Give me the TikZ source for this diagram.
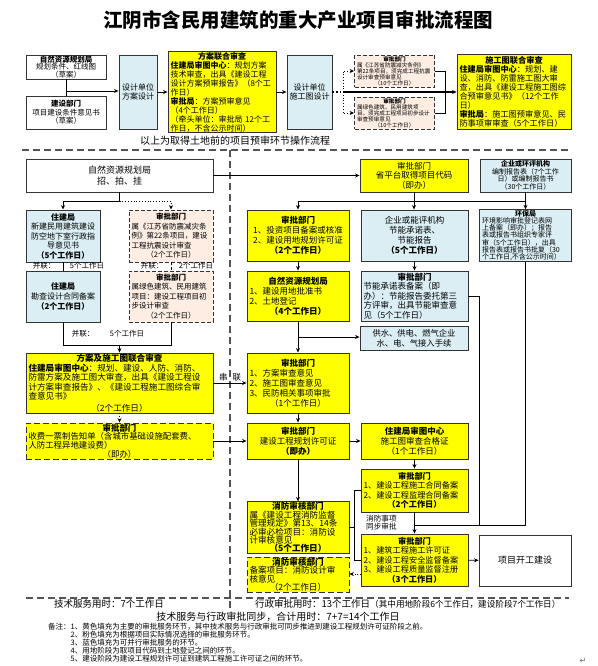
\documentclass[tikz,border=0pt]{standalone}
\usepackage{fontspec}
\setmainfont{Noto Sans CJK SC}
\newfontfamily\symfont{DejaVu Sans}
\usetikzlibrary{arrows.meta, positioning}
\definecolor{apyellow}{HTML}{FFFF00}
\definecolor{apblue}{HTML}{DAEEF3}
\definecolor{appink}{HTML}{FDEDE3}
\definecolor{apline}{HTML}{333333}
\definecolor{apdash}{HTML}{555555}
\setlength{\parindent}{0pt}
\newcommand\fz[2]{\fontsize{#1}{#2}\selectfont}
\newcommand\hd[1]{{\centering\bfseries #1\par}}
\newcommand\ct[1]{{\centering #1\par}}
\newcommand\lf[1]{{\raggedright #1\par}}

\begin{document}
\begin{tikzpicture}[
    x=1pt, y=-1pt,
    box/.style={rectangle, draw=apline, line width=0.9pt, inner xsep=2.5pt,
                inner ysep=0.5pt, font=\fz{8}{9.5}},
    sz/.style 2 args={text width=#1, minimum height=#2},
    ybox/.style={box, fill=apyellow},
    bbox/.style={box, fill=apblue},
    wbox/.style={box, fill=white},
    pbox/.style={box, fill=appink, dash pattern=on 4pt off 2pt},
    arr/.style={-{Stealth[length=4.5pt,width=4pt]}, line width=0.8pt},
    ln/.style={line width=0.8pt},
    sep/.style={line width=1.2pt, color=apdash, dash pattern=on 7pt off 4pt},
    note/.style={inner sep=0pt, font=\fz{7.5}{8}}
  ]
    \useasboundingbox (0,0) rectangle (597,666);

    \node[note, font=\fz{19.5}{20}\bfseries] (title) at (298,20) {江阴市含民用建筑的重大产业项目审批流程图};

    % pre-approval before land
    \node[wbox, sz={75pt}{24pt}, font=\fz{7.5}{7.5}] (zrj1) at (66,67)
      {\hd{自然资源规划局}\ct{规划条件、红线图}\ct{（草案）}};
    \node[wbox, sz={75pt}{33pt}, font=\fz{7.5}{8.5}] (jsbm1) at (66,112.5)
      {\hd{建设部门}\ct{项目建设条件意见书}\ct{（草案）}};
    \node[bbox, sz={33pt}{74pt}] (sjfa) at (138,92) {\ct{设计单位}\ct{方案设计}};
    \node[ybox, sz={103pt}{74pt}, font=\fz{8}{9}] (fash) at (222,92)
      {\hd{方案联合审查}\lf{\textbf{住建局审图中心}：规划方案\\技术审查，出具《建设工程\\设计方案预审报告》（8个工\\作日）\\\textbf{审批局}：方案预审意见\\（4个工作日）\\（牵头单位：审批局~12个工\\作日，不含公示时间）}};
    \node[bbox, sz={42pt}{74pt}, inner xsep=1.5pt] (sjsg) at (309.5,92) {\ct{设计单位}\ct{施工图设计}};
    \node[pbox, sz={75pt}{32pt}, font=\fz{5.6}{6}] (kz1) at (394.5,71)
      {\hd{审批部门}\lf{属《江苏省防震减灾条例》\\第22条项目，须完成工程抗震\\设计审查预审意见}\ct{（10个工作日）}};
    \node[pbox, sz={75pt}{32pt}, font=\fz{5.6}{6}] (ls1) at (394.5,113)
      {\hd{审批部门}\lf{属绿色建筑、民用建筑项\\目，须完成工程项目初步设计\\审查预审意见}\ct{（10个工作日）}};
    \node[ybox, sz={109pt}{75pt}, font=\fz{8.2}{9}] (sgsh) at (514,91.5)
      {\hd{施工图联合审查}\lf{\textbf{住建局审图中心}：规划、建\\设、消防、防雷施工图大审\\查，出具《建设工程施工图综\\合预审意见书》（12个工作\\日）\\\textbf{审批局}：施工图预审意见、民\\防事项审审查（5个工作日）}};

    \coordinate (j1) at (66,91);
    \draw[ln] (zrj1) -- (jsbm1);
    \draw[arr] (j1) -- (j1 -| sjfa.west);
    \draw[arr] (sjfa) -- (fash);
    \draw[arr] (fash) -- (sjsg);
    \coordinate (j2) at (343,92);
    \coordinate (j3) at (445,92);
    \draw[line width=1.6pt, dotted] (sjsg.east) -- (j2);
    \draw[arr, line width=1.4pt] (j2) -- (j2 -| sgsh.west);
    \draw[arr, dotted] (j2) |- (kz1.west);
    \draw[arr, dotted] (j2) |- (ls1.west);
    \draw[ln] (kz1.east) -| (j3);
    \draw[ln] (ls1.east) -| (j3);

    \node[note, font=\fz{10}{11}] (pre) at (235,141) {以上为取得土地前的项目预审环节操作流程};

    \draw[sep] (22,150) -- (568,150);
    \draw[sep] (230,150) -- (230,610);
    \draw[sep] (26,598) -- (569,598);

    % left column
    \node[wbox, sz={182pt}{33pt}, font=\fz{9}{10.5}] (zrj2) at (119.5,175.5) {\ct{自然资源规划局}\ct{招、拍、挂}};
    \node[bbox, sz={69pt}{52pt}, font=\fz{8}{9.5}] (zjj1) at (63,236)
      {\hd{住建局}\ct{新建民用建筑建设}\ct{防空地下室行政指}\ct{导意见书}\hd{（5个工作日）}};
    \node[pbox, sz={79pt}{52pt}, font=\fz{7.5}{9.5}] (kz2) at (171,236)
      {\hd{审批部门}\lf{属《江苏省防震减灾条\\例》第22条项目，建设\\工程抗震设计审查}\ct{（2个工作日）}};
    \node[bbox, sz={69pt}{51pt}, font=\fz{8}{10}] (zjj2) at (63,296.5)
      {\hd{住建局}\ct{勘查设计合同备案}\hd{（2个工作日）}};
    \node[pbox, sz={79pt}{51pt}, font=\fz{7.5}{9.5}] (ls2) at (171,296.5)
      {\hd{审批部门}\lf{属绿色建筑、民用建筑\\项目：建设工程项目初\\步设计审查}\ct{（2个工作日）}};
    \node[ybox, sz={182pt}{60pt}, font=\fz{8.6}{9.5}] (lhsc) at (119.5,383)
      {\hd{方案及施工图联合审查}\lf{\textbf{住建局审图中心}：规划、建设、人防、消防、\\防雷方案及施工图大审查，出具《建设工程设\\计方案审查报告》、《建设工程施工图综合审\\查意见书》}\vspace{2pt}\ct{（2个工作日）}};
    \node[ybox, sz={182pt}{36pt}, font=\fz{8.4}{8.6}, dash pattern=on 6pt off 3pt] (sfdz) at (119.5,441)
      {\hd{审批部门}\lf{收费一票制告知单（含城市基础设施配套费、\\人防工程异地建设费）}\ct{（即办）}};

    \node[note] at (44,266) {并联：};
    \node[note] at (87,266) {5个工作日};
    \node[note] at (152,266) {并联：};
    \node[note] at (196,266) {2个工作日};
    \node[note] at (83,334) {并联：};
    \node[note] at (127,334) {5个工作日};
    \node[note, font=\fz{8.5}{9}] at (230,377) {串\hspace{5pt}联};

    \coordinate (j4) at (119.5,201);
    \coordinate (j5) at (119.5,345);
    \draw[ln] (zrj2) -- (j4);
    \draw[arr] (j4) -| (zjj1);
    \draw[arr, dotted] (j4) -| (kz2);
    \draw[ln] (zjj1) -- (zjj2);
    \draw[ln, dash pattern=on 3pt off 2pt] (kz2) -- (ls2);
    \draw[ln] (zjj2) |- (j5);
    \draw[ln] (ls2) |- (j5);
    \draw[arr] (j5) -- (lhsc);
    \draw[arr, dotted] (lhsc) -- (sfdz);

    % right part
    \node[ybox, sz={103pt}{33pt}, font=\fz{8.5}{9.5}] (ptdm) at (414,175.5)
      {\ct{审批部门}\ct{省平台取得项目代码}\ct{（即办）}};
    \node[bbox, sz={86pt}{33pt}, font=\fz{7}{7.5}] (hpjg) at (525.5,175.5)
      {\hd{企业或环评机构}\ct{编制报告表（7个工作}\ct{日）或编制报告书}\ct{（30个工作日）}};
    \node[ybox, sz={97pt}{51pt}, font=\fz{8.5}{10}] (tzba) at (298,235.5)
      {\hd{审批部门}\ct{1、投资项目备案或核准}\ct{2、建设用地规划许可证}\hd{（2个工作日）}};
    \node[bbox, sz={102pt}{51pt}, font=\fz{8.5}{10}] (nppg) at (414.5,235.5)
      {\ct{企业或能评机构}\ct{节能承诺表、}\ct{节能报告}\hd{（5个工作日）}};
    \node[bbox, sz={87pt}{51pt}, font=\fz{7}{7.2}] (hbj) at (525.5,235.5)
      {\hd{环保局}\lf{环境影响审批登记表网\\上备案（即办）；报告\\表或报告书组织专家评\\审（5个工作日），出具\\报告表或报告书批复（30\\个工作日,不含公示时间）}};
    \node[ybox, sz={97pt}{50pt}, font=\fz{8.5}{10}] (tddj) at (298,296)
      {\hd{自然资源规划局}\lf{1、建设用地批准书\\2、土地登记}\hd{（4个工作日）}};
    \node[bbox, sz={102pt}{50pt}, font=\fz{8.5}{9.5}] (jnsc) at (414.5,296)
      {\hd{审批部门}\lf{节能承诺表备案（即\\办）：节能报告委托第三\\方评审，出具节能审查意\\见（5个工作日）}};
    \node[bbox, sz={103pt}{24pt}, font=\fz{8.3}{10}] (sdq) at (414,338)
      {\ct{供水、供电、燃气企业}\ct{水、电、气接入手续}};
    \node[ybox, sz={97pt}{60pt}, font=\fz{8.5}{10}] (scyj) at (298,383)
      {\hd{审批部门}\lf{1、方案审查意见\\2、施工图审查意见\\3、民防相关事项审批}\ct{（1个工作日）}};
    \node[ybox, sz={97pt}{36pt}, font=\fz{8.5}{10}] (ghxk) at (298,441)
      {\hd{审批部门}\ct{建设工程规划许可证}\hd{（即办）}};
    \node[ybox, sz={102pt}{36pt}, font=\fz{8.5}{10}] (hgz) at (414.5,441)
      {\hd{住建局审图中心}\ct{施工图审查合格证}\ct{（1个工作日）}};
    \node[ybox, sz={97pt}{51pt}, font=\fz{8.6}{8.4}] (xf1) at (298,527.5)
      {\hd{消防审核部门}\lf{属《建设工程消防监督\\管理规定》第13、14条\\必审必检项目：消防设\\计审核意见}\hd{（5个工作日）}};
    \node[ybox, sz={97pt}{35pt}, font=\fz{8.6}{8.4}, dash pattern=on 6pt off 3pt] (xf2) at (298,574.5)
      {\hd{消防审核部门}\lf{备案项目：消防设计审\\核意见}\ct{（2个工作日）}};
    \node[ybox, sz={102pt}{43pt}, font=\fz{8.2}{9.5}] (htba) at (414.5,490.5)
      {\hd{审批部门}\lf{1、建设工程施工合同备案\\2、建设工程监理合同备案}\hd{（2个工作日）}};
    \node[ybox, sz={102pt}{52pt}, font=\fz{8.2}{9.5}] (sgxk) at (414.5,560)
      {\hd{审批部门}\lf{1、建筑工程施工许可证\\2、建设工程安全监督备案\\3、建设工程质量监督注册}\hd{（3个工作日）}};
    \node[wbox, sz={87pt}{51pt}, font=\fz{9}{10}] (kg) at (525,560.5) {\ct{项目开工建设}};
    \node[note, anchor=west, align=left, font=\fz{7.6}{8}] (tbsp) at (366,523) {消防事项\\同步审批};

    \coordinate (j6) at (414,201);
    \coordinate (j7) at (298,337);
    \coordinate (j8) at (414.5,525);
    \coordinate (j9) at (479,525);
    \coordinate (j10) at (354,490.5);
    \coordinate (j11) at (354,560);
    \coordinate (j12) at (361,574);
    \draw[arr] (zrj2) -- (ptdm);
    \draw[ln] (ptdm) -- (j6);
    \draw[arr] (j6) -| (tzba);
    \draw[arr] (j6) -- (j6 |- nppg.north);
    \draw[ln] (j6) -- (j6 -| hbj);
    \draw[arr] (hpjg) -- (hbj);
    \draw[arr] (tzba) -- (tddj);
    \draw[arr] (nppg) -- (jnsc);
    \draw[arr] (tddj) -- (scyj);
    \draw[arr] (j7) -- (j7 -| sdq.west);
    \draw[arr] (lhsc) -- (scyj);
    \draw[arr] (sfdz) -- (ghxk);
    \draw[arr] (scyj) -- (ghxk);
    \draw[arr] (ghxk) -- (hgz);
    \draw[arr] (ghxk) -- (xf1);
    \draw[arr] (hgz) -- (htba);
    \draw[arr] (htba) -- (sgxk);
    \draw[ln] (jnsc.east) -| (j9);
    \draw[ln] (hbj) |- (j8);
    \draw[arr] (sgxk) -- (kg);
    \draw[ln] (htba.west) -- (j10) -- (j11) -- (sgxk.west);
    \draw[ln] (xf1.east) -- (xf1.east -| j10);
    \draw[arr, dotted] (j12) -- (j12 -| xf2.east);

    % totals and notes
    \node[note, font=\fz{9.5}{10}] (jsfw) at (109,604) {技术服务用时：7个工作日};
    \node[note, anchor=west, font=\fz{9.5}{10}] (xzsp) at (255,604)
      {行政审批用时：13个工作日{\fz{8.6}{8.6}（其中用地阶段6个工作日，建设阶段7个工作日）}};
    \node[note, font=\fz{10}{11}] (hj) at (278,617) {技术服务与行政审批同步，合计用时：7+7=14个工作日};
    \node[note, anchor=north west, align=left, font=\fz{7.5}{8}] (bz) at (48,623)
      {备注：1、黄色填充为主要的审批服务环节，其中技术服务与行政审批可同步推进到建设工程规划许可证阶段之前。\\
       \phantom{备注：}2、粉色填充为根据项目实际情况选择的审批服务环节。\\
       \phantom{备注：}3、蓝色填充为可并行审批服务的环节。\\
       \phantom{备注：}4、用地阶段为取项目代码到土地登记之间的环节。\\
       \phantom{备注：}5、建设阶段为建设工程规划许可证到建筑工程施工许可证之间的环节。};
    \node[note, font=\symfont\fz{8}{8}, text=black!60] (ret) at (583,661) {↵};
\end{tikzpicture}
\end{document}
